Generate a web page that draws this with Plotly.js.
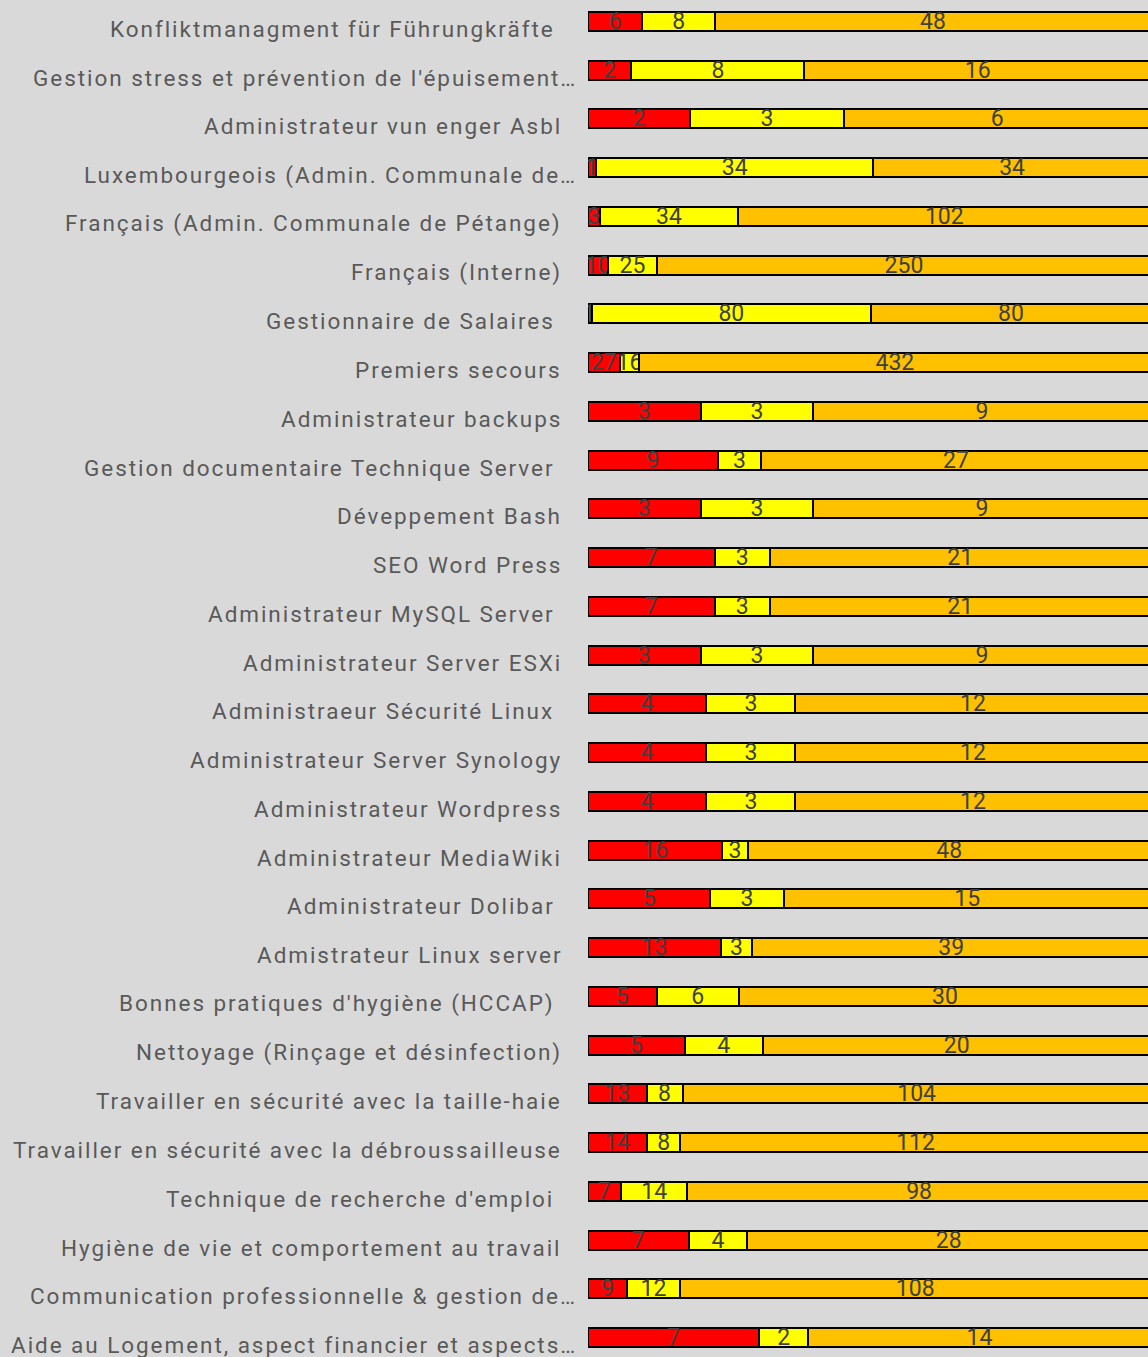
<!DOCTYPE html>
<html>
<head>
<meta charset="utf-8">
<script src="https://cdn.plot.ly/plotly-3.0.1.min.js"></script>
<style>
  html, body { margin: 0; padding: 0; background: #d9d9d9; }
  #chart { width: 1148px; height: 1357px; }
  text.annotation-text { letter-spacing: 1.95px; }
</style>
</head>
<body>
<div id="chart"></div>
<script>
// Course labels, top to bottom (trailing space kept as non-breaking space)
var categories = [
  "Konfliktmanagment für Führungkräfte\u00a0",
  "Gestion stress et prévention de l'épuisement…",
  "Administrateur vun enger Asbl",
  "Luxembourgeois (Admin. Communale de…",
  "Français (Admin. Communale de Pétange)",
  "Français (Interne)",
  "Gestionnaire de Salaires\u00a0",
  "Premiers secours",
  "Administrateur backups",
  "Gestion documentaire Technique Server\u00a0",
  "Déveppement Bash",
  "SEO Word Press",
  "Administrateur MySQL Server\u00a0",
  "Administrateur Server ESXi",
  "Administraeur Sécurité Linux\u00a0",
  "Administrateur Server Synology",
  "Administrateur Wordpress",
  "Administrateur MediaWiki",
  "Administrateur Dolibar\u00a0",
  "Admistrateur Linux server",
  "Bonnes pratiques d'hygiène (HCCAP)\u00a0",
  "Nettoyage (Rinçage et désinfection)",
  "Travailler en sécurité avec la taille-haie",
  "Travailler en sécurité avec la débroussailleuse",
  "Technique de recherche d'emploi\u00a0",
  "Hygiène de vie et comportement au travail",
  "Communication professionnelle & gestion de…",
  "Aide au Logement, aspect financier et aspects…"
];

var redValues    = [6, 2, 2, 1, 3, 10, 1, 27, 3, 9, 3, 7, 7, 3, 4, 4, 4, 16, 5, 13, 5, 5, 13, 14, 7, 7, 9, 7];
var yellowValues = [8, 8, 3, 34, 34, 25, 80, 16, 3, 3, 3, 3, 3, 3, 3, 3, 3, 3, 3, 3, 6, 4, 8, 8, 14, 4, 12, 2];
var orangeValues = [48, 16, 6, 34, 102, 250, 80, 432, 9, 27, 9, 21, 21, 9, 12, 12, 12, 48, 15, 39, 30, 20, 104, 112, 98, 28, 108, 14];

var seriesColors = ["#ff0000", "#ffff00", "#ffc000"];
var seriesValues = [redValues, yellowValues, orangeValues];

var textFont = { family: "Roboto, sans-serif", size: 23, color: "#404040" };

var traces = seriesValues.map(function (vals, k) {
  return {
    type: "bar",
    orientation: "h",
    x: vals,
    y: categories,
    text: vals.map(String),
    texttemplate: "%{text}",
    textposition: "inside",
    insidetextanchor: "middle",
    constraintext: "none",
    textangle: 0,
    insidetextfont: textFont,
    width: 0.39,
    offset: -0.349,
    marker: { color: seriesColors[k], line: { color: "#000000", width: 2 } },
    hoverinfo: "skip",
    showlegend: false
  };
});

var annotations = categories.map(function (c, i) {
  var truncated = c.charAt(c.length - 1) === "…";
  return {
    xref: "paper", x: 0, yref: "y", y: i,
    xanchor: "right", yanchor: "middle",
    xshift: truncated ? -9 : -24,
    text: c, showarrow: false,
    font: { family: "Roboto, sans-serif", size: 22.5, color: "#595959" }
  };
});

var layout = {
  width: 1148, height: 1357,
  margin: { l: 588, r: 0, t: 0, b: 0, pad: 0 },
  paper_bgcolor: "#d9d9d9",
  plot_bgcolor: "#d9d9d9",
  barmode: "stack",
  barnorm: "fraction",
  xaxis: { range: [0, 0.995], visible: false, fixedrange: true },
  yaxis: {
    type: "category",
    categoryorder: "array",
    categoryarray: categories,
    range: [27.246, -0.595],
    showticklabels: false,
    showgrid: false, zeroline: false, showline: false, ticks: ""
  },
  annotations: annotations
};

Plotly.newPlot("chart", traces, layout, { displayModeBar: false, staticPlot: true });
</script>
</body>
</html>
